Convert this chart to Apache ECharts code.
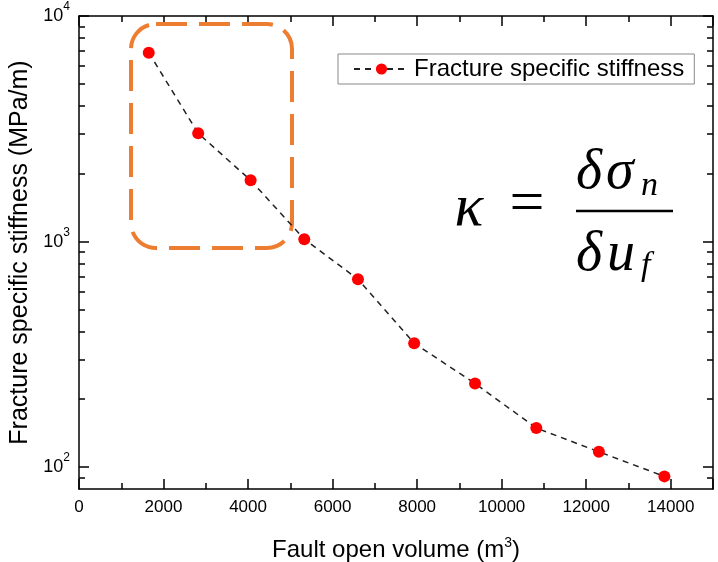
<!DOCTYPE html>
<html>
<head>
<meta charset="utf-8">
<script src="https://cdn.jsdelivr.net/npm/echarts@6/dist/echarts.min.js"></script>
<style>
  html, body { margin: 0; padding: 0; background: #fff; }
  #chart { width: 718px; height: 562px; }
</style>
</head>
<body>
<div id="chart"></div>
<script>
// data
const seriesName = 'Fracture specific stiffness'
const volume = [1650, 2820, 4060, 5330, 6600, 7930, 9370, 10820, 12300, 13850]
const stiffness = [6880, 3020, 1870, 1025, 681, 354, 235, 149, 117, 91]
const majorY = [100, 1000, 10000]
const minorY = [90, 200, 300, 400, 500, 600, 700, 800, 900,
  2000, 3000, 4000, 5000, 6000, 7000, 8000, 9000]

const font = 'Liberation Sans, Arial, sans-serif'
const mathFont = 'Liberation Serif, Times New Roman, serif'

const chart = echarts.init(document.getElementById('chart'))

// log axis on one side, only major or only minor ticks
function logAxis(pos, ticks, len, main) {
  return {
    type: 'log',
    position: pos,
    min: 80,
    max: 10000,
    logBase: 10,
    axisLine: { show: main, lineStyle: { color: '#000', width: 1.5 } },
    axisTick: { show: true, inside: true, length: len, customValues: ticks,
      lineStyle: { color: '#000', width: 1.5 } },
    splitLine: { show: false },
    axisLabel: { show: false }
  }
}

const yLeft = logAxis('left', majorY, 10, true)
yLeft.axisLabel = {
  show: true,
  customValues: majorY,
  margin: 9,
  fontSize: 18,
  fontFamily: font,
  color: '#000',
  formatter: v => '{b|10}{s|' + Math.round(Math.log10(v)) + '}',
  rich: {
    b: { fontSize: 18, fontFamily: font, color: '#000', lineHeight: 30 },
    s: { fontSize: 12, fontFamily: font, color: '#000', lineHeight: 12, verticalAlign: 'top' }
  }
}
yLeft.name = 'Fracture specific stiffness (MPa/m)'
yLeft.nameLocation = 'middle'
yLeft.nameGap = 43
yLeft.nameTextStyle = { fontSize: 25, fontFamily: font, color: '#000' }

function xAxis(pos, main) {
  return {
    type: 'value',
    position: pos,
    min: 0,
    max: 15000,
    interval: 2000,
    axisLine: { show: true, lineStyle: { color: '#000', width: 1.5 } },
    axisTick: { show: true, inside: true, length: 10, lineStyle: { color: '#000', width: 1.5 } },
    minorTick: { show: true, splitNumber: 2, length: 6, lineStyle: { color: '#000', width: 1.5 } },
    splitLine: { show: false },
    minorSplitLine: { show: false },
    axisLabel: { show: main, fontSize: 17, fontFamily: font, color: '#000', margin: 10,
      showMaxLabel: false, formatter: v => String(v) }
  }
}

const xBottom = xAxis('bottom', true)
xBottom.name = 'Fault open volume (m{s|3})'
xBottom.nameLocation = 'middle'
xBottom.nameGap = 47
xBottom.nameTextStyle = {
  fontSize: 24, fontFamily: font, color: '#000', lineHeight: 28,
  rich: { s: { fontSize: 14, fontFamily: font, color: '#000', lineHeight: 14, verticalAlign: 'top' } }
}

const option = {
  animation: false,
  backgroundColor: '#fff',
  grid: { left: 79, right: 5, top: 16, bottom: 73, containLabel: false, outerBoundsMode: 'none' },
  legend: {
    data: [seriesName],
    left: 338,
    top: 54,
    padding: [3, 10, 3, 15],
    borderColor: '#888',
    borderWidth: 1,
    itemWidth: 55,
    itemHeight: 14,
    itemGap: 9,
    textStyle: { fontSize: 24, fontFamily: font, color: '#000' }
  },
  xAxis: [xBottom, xAxis('top', false)],
  yAxis: [yLeft, logAxis('left', minorY, 6, false), logAxis('right', majorY, 10, true), logAxis('right', minorY, 6, false)],
  series: [{
    name: seriesName,
    type: 'line',
    xAxisIndex: 0,
    yAxisIndex: 0,
    data: volume.map((v, i) => [v, stiffness[i]]),
    symbol: 'circle',
    symbolSize: 12,
    itemStyle: { color: '#ff0000' },
    lineStyle: { color: '#222', width: 1.5, type: [6, 5] },
    z: 3
  }],
  graphic: [
    // highlighted region
    { type: 'rect', z: 1, shape: { x: 131, y: 24, width: 161, height: 224, r: 25 },
      style: { fill: 'none', stroke: '#ed7d31', lineWidth: 4, lineDash: [31, 12] } },
    // kappa = d sigma_n / d u_f
    { type: 'text', x: 469, y: 209, style: { text: 'κ', font: 'italic 60px ' + mathFont, fill: '#000', align: 'center', verticalAlign: 'middle' } },
    { type: 'text', x: 527, y: 206, style: { text: '=', font: '62px ' + mathFont, fill: '#000', align: 'center', verticalAlign: 'middle' } },
    { type: 'line', shape: { x1: 576, y1: 211, x2: 673, y2: 211 }, style: { stroke: '#000', lineWidth: 2.5 } },
    { type: 'text', x: 576, y: 173, style: { text: 'δ', font: 'italic 56px ' + mathFont, fill: '#000', align: 'left', verticalAlign: 'middle' } },
    { type: 'text', x: 606, y: 173, style: { text: 'σ', font: 'italic 56px ' + mathFont, fill: '#000', align: 'left', verticalAlign: 'middle' } },
    { type: 'text', x: 641, y: 186, style: { text: 'n', font: 'italic 34px ' + mathFont, fill: '#000', align: 'left', verticalAlign: 'middle' } },
    { type: 'text', x: 576, y: 255, style: { text: 'δ', font: 'italic 56px ' + mathFont, fill: '#000', align: 'left', verticalAlign: 'middle' } },
    { type: 'text', x: 607, y: 255, style: { text: 'u', font: 'italic 56px ' + mathFont, fill: '#000', align: 'left', verticalAlign: 'middle' } },
    { type: 'text', x: 641, y: 266, style: { text: 'f', font: 'italic 34px ' + mathFont, fill: '#000', align: 'left', verticalAlign: 'middle' } }
  ]
}

chart.setOption(option)
</script>
</body>
</html>
